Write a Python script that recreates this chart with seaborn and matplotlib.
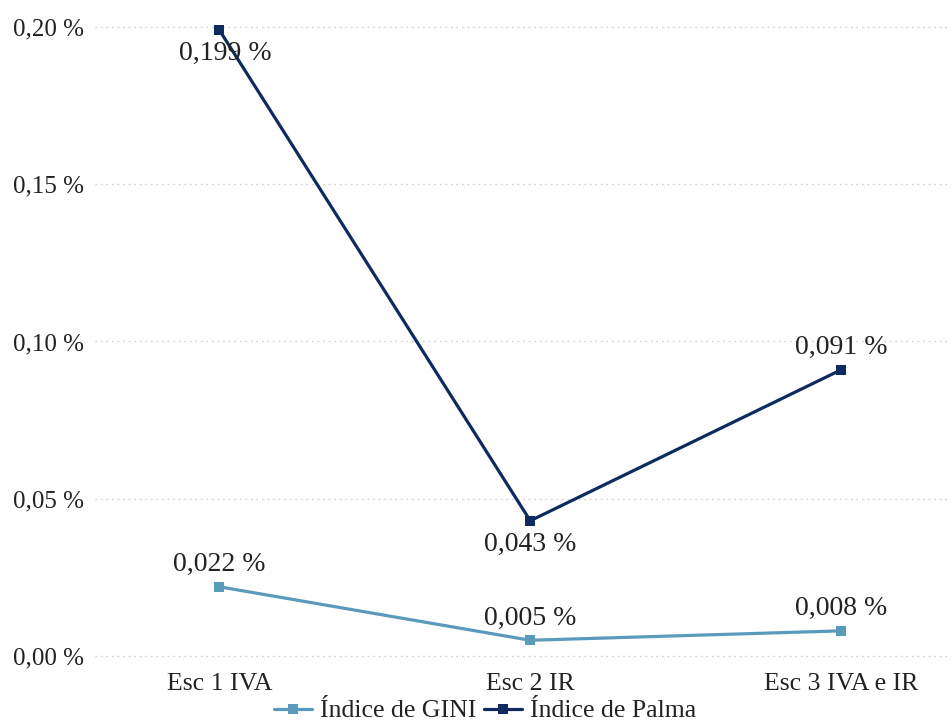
import matplotlib
matplotlib.use("Agg")
import matplotlib.pyplot as plt
import seaborn as sns
import pandas as pd
from matplotlib.ticker import FuncFormatter
from matplotlib.lines import Line2D

categories = ["Esc 1 IVA", "Esc 2 IR", "Esc 3 IVA e IR"]
gini = [0.022, 0.005, 0.008]
palma = [0.199, 0.043, 0.091]
series_names = ["Índice de GINI", "Índice de Palma"]
yticks = [0.00, 0.05, 0.10, 0.15, 0.20]

sns.set_theme(style="white")
plt.rcParams["font.family"] = ["Liberation Serif", "DejaVu Serif"]

df = pd.DataFrame({
    "cat": list(range(len(categories))) * 2,
    "val": gini + palma,
    "serie": [series_names[0]] * 3 + [series_names[1]] * 3,
})

W, H = 953, 723
fig = plt.figure(figsize=(W / 100, H / 100), dpi=100)
ax = fig.add_axes([95 / W, 1 - 665 / H, (950 - 95) / W, (665 - 20) / H])

colors = {series_names[0]: "#5a9bbb", series_names[1]: "#0e2a5e"}
sns.lineplot(data=df, x="cat", y="val", hue="serie", palette=colors,
             marker="s", markersize=7, markeredgewidth=0, linewidth=2.3,
             ax=ax, legend=False)

ax.set_xlim(-0.40, 2.35)
ax.set_ylim(-0.00286, 0.2022)
ax.set_yticks(yticks)
ax.yaxis.set_major_formatter(FuncFormatter(lambda v, p: f"{v:.2f}".replace(".", ",") + " %"))
ax.set_xticks(range(len(categories)))
ax.set_xticklabels(categories)
ax.tick_params(axis="y", labelsize=18, colors="#222222", length=0, pad=8)
ax.tick_params(axis="x", labelsize=18.5, colors="#222222", length=0, pad=6)
ax.set_xlabel("")
ax.set_ylabel("")
ax.grid(axis="y", color="#c8c8c8", linestyle=(0, (1, 3)), linewidth=1)
ax.grid(axis="x", visible=False)
for s in ax.spines.values():
    s.set_visible(False)

def fmt(v):
    return f"{v:.3f}".replace(".", ",") + " %"

for i, v in enumerate(gini):
    ax.annotate(fmt(v), (i, v), xytext=(0, 7), textcoords="offset points",
                ha="center", va="bottom", fontsize=20, color="#222222")
palma_dirs = ["below", "below", "above"]
for i, v in enumerate(palma):
    if palma_dirs[i] == "above":
        ax.annotate(fmt(v), (i, v), xytext=(0, 7), textcoords="offset points",
                    ha="center", va="bottom", fontsize=20, color="#222222")
    else:
        ax.annotate(fmt(v), (i, v), xytext=(4 if i == 0 else 0, -8), textcoords="offset points",
                    ha="center", va="top", fontsize=20, color="#222222")

handles = [Line2D([], [], color=colors[n], marker="s", markersize=7, markeredgewidth=0, linewidth=2.3)
           for n in series_names]
fig.legend(handles, series_names, loc="center", bbox_to_anchor=(485 / W, 1 - 711 / H),
           ncol=2, frameon=False, fontsize=18.5, handlelength=1.5, handletextpad=0.3,
           columnspacing=0.3, labelcolor="#222222")

fig.savefig("out.png", dpi=100)
